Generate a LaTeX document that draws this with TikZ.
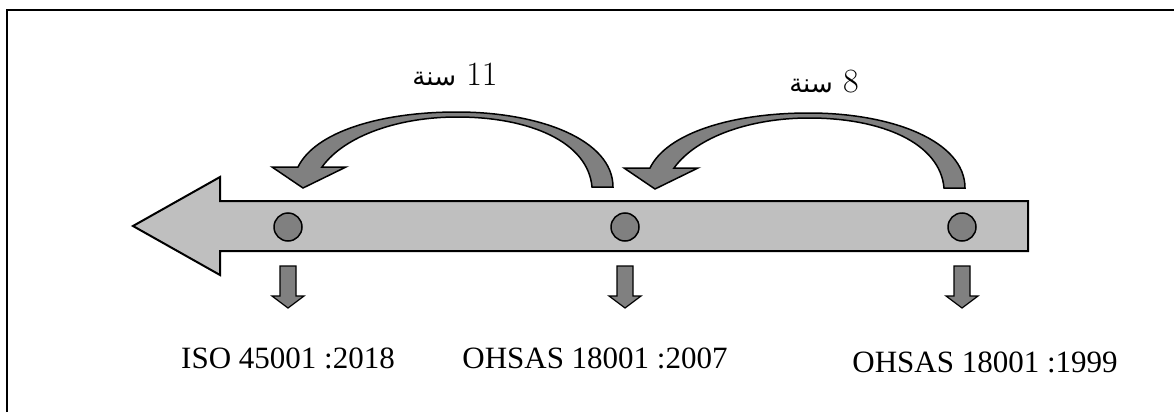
\documentclass[tikz,border=0pt]{standalone}
\usepackage{fontspec}
\TeXXeTstate=1
\newfontfamily\arabicfont[Script=Arabic]{DejaVu Sans}
\newfontfamily\timesfont{Liberation Serif}
\begin{document}
\begin{tikzpicture}[x=1pt,y=-1pt,
  band/.style={fill=black!50,draw=black,line width=1.5pt,line join=miter},
  dot/.style={circle,fill=black!50,draw=black,line width=1.5pt,minimum size=28pt,inner sep=0pt},
  datelabel/.style={anchor=base,inner sep=0pt,font=\timesfont\fontsize{31}{36}\selectfont},
  yearslabel/.style={anchor=base,inner sep=0pt,font=\fontsize{34}{40}\selectfont}]
\useasboundingbox (0,0) rectangle (1174,412);
% frame
\draw[line width=2pt] (7,412) -- (7,10) -- (1174,10);
% main timeline arrow
\draw[fill=black!25,draw=black,line width=2pt,line join=miter]
  (133,226) -- (220,177) -- (220,201) -- (1028,201) -- (1028,251) -- (220,251) -- (220,275) -- cycle;
% dots
\node[dot] (d1) at (288,227) {};
\node[dot] (d2) at (625,227) {};
\node[dot] (d3) at (962,227) {};
% down arrows
\foreach \x in {288,625,962}{
  \draw[band,line width=1.2pt] (\x-8,266) -- (\x+8,266) -- (\x+8,296) -- (\x+16,296) -- (\x,308) -- (\x-16,296) -- (\x-8,296) -- cycle;
}
% curved arrows
\foreach \dx/\dy in {0/0,352/1}{
\begin{scope}[shift={(\dx,\dy)}]
\draw[band]
  (613,187) .. controls (613,140) and (540,112) .. (457,112)
  .. controls (380,112) and (315,132) .. (298,167)
  -- (272,167) -- (303,188) -- (346,167) -- (322,167)
  .. controls (345,135) and (400,117) .. (457,117)
  .. controls (530,117) and (588,142) .. (592,187) -- cycle;
\end{scope}
}
% year labels
\node[yearslabel] (y1) at (455,85) {{\arabicfont\fontsize{26}{30}\selectfont\beginR سنة\endR}\ 11};
\node[yearslabel] (y2) at (824,92) {{\arabicfont\fontsize{26}{30}\selectfont\beginR سنة\endR}\ 8};
% date labels
\node[datelabel] (t1) at (288,368) {ISO 45001 :2018};
\node[datelabel] (t2) at (595,368) {OHSAS 18001 :2007};
\node[datelabel] (t3) at (985,372) {OHSAS 18001 :1999};
\end{tikzpicture}
\end{document}
